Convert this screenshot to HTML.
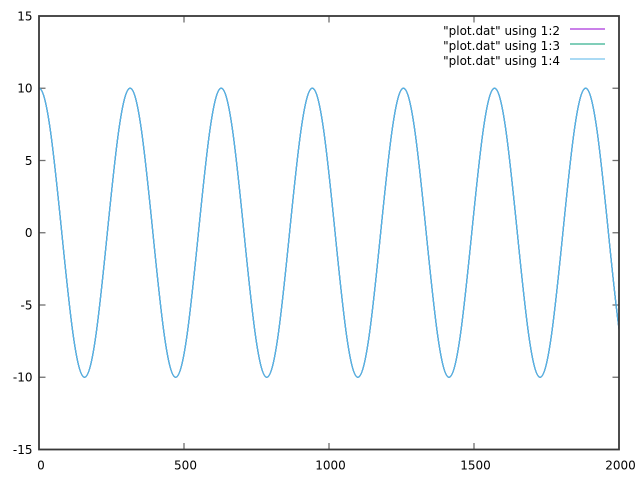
<!DOCTYPE html>
<html>
<head>
<meta charset="utf-8">
<style>
  html, body { margin: 0; padding: 0; background: #fff; }
  svg { display: block; }
  text { font-family: "DejaVu Sans", "Liberation Sans", sans-serif; font-size: 12px; fill: #000; }
</style>
</head>
<body>
<svg width="640" height="480" viewBox="0 0 640 480" xmlns="http://www.w3.org/2000/svg">
  <rect x="0" y="0" width="640" height="480" fill="#fff"/>
  <defs>
    <clipPath id="plotclip">
      <rect x="39" y="16" width="580" height="433.5"/>
    </clipPath>
    <path id="wave" d="M39 88.25
      c8.008 0 14.768 64.69 22.777 144.5 c8.008 79.81 14.768 144.5 22.777 144.5 c8.008 0 14.768 -64.69 22.777 -144.5 c8.008 -79.81 14.768 -144.5 22.777 -144.5
      c8.008 0 14.768 64.69 22.777 144.5 c8.008 79.81 14.768 144.5 22.777 144.5 c8.008 0 14.768 -64.69 22.777 -144.5 c8.008 -79.81 14.768 -144.5 22.777 -144.5
      c8.008 0 14.768 64.69 22.777 144.5 c8.008 79.81 14.768 144.5 22.777 144.5 c8.008 0 14.768 -64.69 22.777 -144.5 c8.008 -79.81 14.768 -144.5 22.777 -144.5
      c8.008 0 14.768 64.69 22.777 144.5 c8.008 79.81 14.768 144.5 22.777 144.5 c8.008 0 14.768 -64.69 22.777 -144.5 c8.008 -79.81 14.768 -144.5 22.777 -144.5
      c8.008 0 14.768 64.69 22.777 144.5 c8.008 79.81 14.768 144.5 22.777 144.5 c8.008 0 14.768 -64.69 22.777 -144.5 c8.008 -79.81 14.768 -144.5 22.777 -144.5
      c8.008 0 14.768 64.69 22.777 144.5 c8.008 79.81 14.768 144.5 22.777 144.5 c8.008 0 14.768 -64.69 22.777 -144.5 c8.008 -79.81 14.768 -144.5 22.777 -144.5
      c8.008 0 14.768 64.69 22.777 144.5 c8.008 79.81 14.768 144.5 22.777 144.5" fill="none"/>
  </defs>

  <!-- ticks -->
  <g stroke="#707070" stroke-width="1.3" fill="none">
    <!-- left y ticks -->
    <line x1="39" y1="88.25" x2="45.5" y2="88.25"/>
    <line x1="39" y1="160.5" x2="45.5" y2="160.5"/>
    <line x1="39" y1="232.75" x2="45.5" y2="232.75"/>
    <line x1="39" y1="305" x2="45.5" y2="305"/>
    <line x1="39" y1="377.25" x2="45.5" y2="377.25"/>
    <!-- right y ticks -->
    <line x1="619" y1="88.25" x2="612.5" y2="88.25"/>
    <line x1="619" y1="160.5" x2="612.5" y2="160.5"/>
    <line x1="619" y1="232.75" x2="612.5" y2="232.75"/>
    <line x1="619" y1="305" x2="612.5" y2="305"/>
    <line x1="619" y1="377.25" x2="612.5" y2="377.25"/>
    <!-- bottom x ticks -->
    <line x1="184" y1="449.5" x2="184" y2="443"/>
    <line x1="329" y1="449.5" x2="329" y2="443"/>
    <line x1="474" y1="449.5" x2="474" y2="443"/>
    <!-- top x ticks -->
    <line x1="184" y1="16" x2="184" y2="22.5"/>
    <line x1="329" y1="16" x2="329" y2="22.5"/>
    <line x1="474" y1="16" x2="474" y2="22.5"/>
  </g>

  <!-- curves -->
  <g clip-path="url(#plotclip)" fill="none" stroke-width="1.2">
    <use href="#wave" stroke="#9400d3"/>
    <use href="#wave" stroke="#009e73"/>
    <use href="#wave" stroke="#56b4e9"/>
  </g>

  <!-- border -->
  <rect x="39" y="16" width="580" height="433.5" fill="none" stroke="#383838" stroke-width="1.8"/>

  <!-- y labels -->
  <g text-anchor="end">
    <text x="32.5" y="20.5">15</text>
    <text x="32.5" y="92.5">10</text>
    <text x="32.5" y="164.8">5</text>
    <text x="32.5" y="237">0</text>
    <text x="32.5" y="309.3">-5</text>
    <text x="32.5" y="381.5">-10</text>
    <text x="32.5" y="453.8">-15</text>
  </g>

  <!-- x labels -->
  <g text-anchor="middle">
    <text x="41" y="469.5">0</text>
    <text x="185.5" y="469.5">500</text>
    <text x="330.5" y="469.5">1000</text>
    <text x="475.5" y="469.5">1500</text>
    <text x="620.5" y="469.5">2000</text>
  </g>

  <!-- legend -->
  <g text-anchor="end">
    <text x="560" y="35">"plot.dat" using 1:2</text>
    <text x="560" y="50">"plot.dat" using 1:3</text>
    <text x="560" y="65">"plot.dat" using 1:4</text>
  </g>
  <g stroke-width="1">
    <line x1="570" y1="29" x2="605" y2="29" stroke="#9400d3"/>
    <line x1="570" y1="44" x2="605" y2="44" stroke="#009e73"/>
    <line x1="570" y1="59" x2="605" y2="59" stroke="#56b4e9"/>
  </g>
</svg>
</body>
</html>
